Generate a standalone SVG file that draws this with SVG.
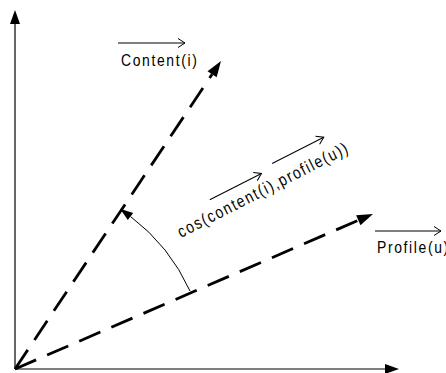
<svg xmlns="http://www.w3.org/2000/svg" width="446" height="373" viewBox="0 0 446 373">
  <defs>
    <style>
      .axis { stroke: #000; stroke-width: 1.2; fill: none; }
      .vec { stroke: #000; stroke-width: 2.8; fill: none; stroke-dasharray: 23 12; }
      .thin { stroke: #000; stroke-width: 1; fill: none; }
      .lbl { font-family: "Liberation Sans", Arial, sans-serif; font-size: 17px; letter-spacing: 2px; fill: #000; }
    </style>
    <marker id="axisHead" markerUnits="userSpaceOnUse" markerWidth="14" markerHeight="10" refX="0" refY="5" orient="auto" overflow="visible">
      <path d="M0,0 L14,5 L0,10 Z" fill="#000"/>
    </marker>
    <marker id="vecHead" markerUnits="userSpaceOnUse" markerWidth="16" markerHeight="11" refX="0" refY="5.5" orient="auto" overflow="visible">
      <path d="M0,0 L16,5.5 L0,11 Z" fill="#000"/>
    </marker>
    <marker id="arcHead" markerUnits="userSpaceOnUse" markerWidth="13" markerHeight="9" refX="0" refY="4.5" orient="auto" overflow="visible">
      <path d="M0,0 L13,4.5 L0,9 Z" fill="#000"/>
    </marker>
  </defs>

  <!-- axes -->
  <g id="axes">
    <line class="axis" x1="15" y1="369" x2="15" y2="24" marker-end="url(#axisHead)"/>
    <line class="axis" x1="15" y1="369" x2="385" y2="369" marker-end="url(#axisHead)"/>
  </g>

  <!-- vectors and angle arc -->
  <g id="connectors">
    <line id="content-vec" class="vec" x1="15" y1="369" x2="212.1" y2="74.3" marker-end="url(#vecHead)"/>
    <line id="profile-vec" class="vec" x1="15" y1="369" x2="358.3" y2="220.3" marker-end="url(#vecHead)"/>
    <path id="angle-arc" class="thin" d="M190,291 A193,193 0 0,0 130.5,216.5" marker-end="url(#arcHead)"/>
  </g>

  <!-- Content(i) label -->
  <g id="content-label">
    <line class="thin" x1="118" y1="43" x2="185" y2="43"/>
    <polyline class="thin" points="178,38.5 185,43 178,47.5"/>
    <text class="lbl" transform="translate(121,66) scale(0.82,1)">Content(i)</text>
  </g>

  <!-- Profile(u) label -->
  <g id="profile-label">
    <line class="thin" x1="375" y1="231" x2="441" y2="231"/>
    <polyline class="thin" points="434,226.5 441,231 434,235.5"/>
    <text class="lbl" transform="translate(377,253) scale(0.82,1)">Profile(u)</text>
  </g>

  <!-- cosine label along the arc -->
  <g id="cos-label" transform="translate(181,238) rotate(-27)">
    <text class="lbl" transform="scale(0.82,1)">cos(content(i),profile(u))</text>
    <line class="thin" x1="43" y1="-21" x2="101" y2="-21"/>
    <polyline class="thin" points="94,-25.5 101,-21 94,-16.5"/>
    <line class="thin" x1="115" y1="-25" x2="173" y2="-25"/>
    <polyline class="thin" points="166,-29.5 173,-25 166,-20.5"/>
  </g>
</svg>
